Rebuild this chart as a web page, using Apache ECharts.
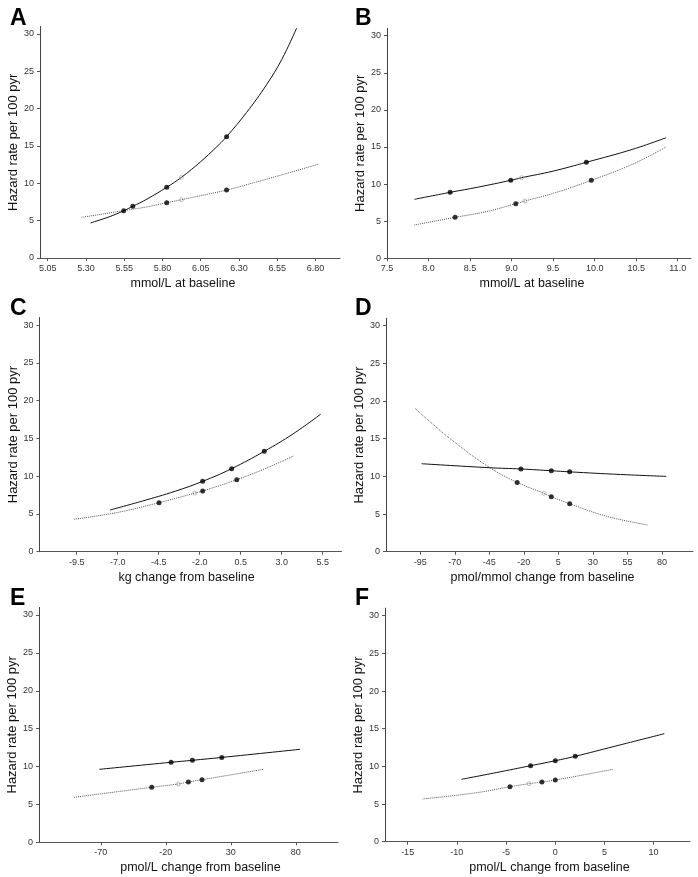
<!DOCTYPE html>
<html>
<head>
<meta charset="utf-8">
<script src="https://cdn.jsdelivr.net/npm/echarts@6/dist/echarts.min.js"></script>
<style>
html,body{margin:0;padding:0;background:#fff;}
#chart{width:698px;height:877px;}
</style>
</head>
<body>
<div id="chart"></div>
<script>
// ---------- data ----------
var yTicks = [0, 5, 10, 15, 20, 25, 30];
var yName = 'Hazard rate per 100 pyr';

// Panel A
var aTicks = [5.05, 5.30, 5.55, 5.80, 6.05, 6.30, 6.55, 6.80];
var aTickLabels = ['5.05', '5.30', '5.55', '5.80', '6.05', '6.30', '6.55', '6.80'];
var aSolid = [[5.33,4.7],[5.45,5.5],[5.547,6.33],[5.606,6.92],[5.70,7.9],[5.828,9.47],[5.924,10.8],[6.05,12.9],[6.15,14.8],[6.219,16.25],[6.35,19.5],[6.48,23.2],[6.58,26.6],[6.677,30.8]];
var aDotted = [[5.27,5.45],[5.40,5.85],[5.547,6.35],[5.70,6.85],[5.828,7.41],[5.924,7.8],[6.05,8.35],[6.219,9.1],[6.40,10.1],[6.60,11.25],[6.825,12.6]];
var aMarks = [[5.547,6.33],[5.606,6.92],[5.828,9.47],[6.219,16.25],[5.828,7.41],[6.219,9.1]];
var aOpen = [[5.924,10.8],[5.924,7.8]];

// Panel B
var bTicks = [7.5, 8.0, 8.5, 9.0, 9.5, 10.0, 10.5, 11.0];
var bTickLabels = ['7.5', '8.0', '8.5', '9.0', '9.5', '10.0', '10.5', '11.0'];
var bSolid = [[7.83,7.95],[8.26,8.89],[8.6,9.6],[8.99,10.51],[9.12,10.86],[9.5,11.75],[9.90,12.94],[10.46,14.7],[10.86,16.25]];
var bDotted = [[7.83,4.49],[8.32,5.52],[8.7,6.3],[9.05,7.36],[9.16,7.72],[9.5,8.75],[9.96,10.51],[10.46,12.7],[10.86,15.0]];
var bMarks = [[8.26,8.89],[8.99,10.51],[9.90,12.94],[8.32,5.52],[9.05,7.36],[9.96,10.51]];
var bOpen = [[9.12,10.86],[9.16,7.72]];

// Panel C
var cTicks = [-9.5, -7.0, -4.5, -2.0, 0.5, 3.0, 5.5];
var cTickLabels = ['-9.5', '-7.0', '-4.5', '-2.0', '0.5', '3.0', '5.5'];
var cSolid = [[-7.47,5.52],[-5.5,6.7],[-3.5,8.0],[-1.82,9.31],[-0.05,10.99],[1.94,13.29],[3.7,15.6],[5.38,18.2]];
var cDotted = [[-9.66,4.29],[-7.0,5.2],[-4.48,6.49],[-2.3,7.75],[-1.82,8.03],[0.26,9.53],[2.0,11.0],[3.77,12.7]];
var cMarks = [[-1.82,9.31],[-0.05,10.99],[1.94,13.29],[-4.48,6.49],[-1.82,8.03],[0.26,9.53]];
var cOpen = [[-2.3,7.75]];

// Panel D
var dTicks = [-95, -70, -45, -20, 5, 30, 55, 80];
var dTickLabels = ['-95', '-70', '-45', '-20', '5', '30', '55', '80'];
var dSolid = [[-94,11.68],[-45,11.15],[-22.1,10.98],[-0.1,10.75],[13.2,10.6],[50,10.25],[83.1,10.0]];
var dDotted = [[-98.8,19.03],[-74,15.1],[-45,11.2],[-24.8,9.2],[-5.4,7.75],[-0.1,7.3],[13.2,6.37],[40,4.7],[69.9,3.54]];
var dMarks = [[-22.1,10.98],[-0.1,10.75],[13.2,10.6],[-24.8,9.2],[-0.1,7.3],[13.2,6.37]];
var dOpen = [[-5.4,7.75]];

// Panel E
var eTicks = [-70, -20, 30, 80];
var eTickLabels = ['-70', '-20', '30', '80'];
var eSolid = [[-71.1,9.63],[-15.9,10.56],[0.5,10.82],[23.1,11.2],[83.3,12.27]];
var eDotted = [[-90.5,5.94],[-30.8,7.26],[-10.3,7.7],[-2.6,7.96],[7.9,8.26],[55.1,9.63]];
var eMarks = [[-15.9,10.56],[0.5,10.82],[23.1,11.2],[-30.8,7.26],[-2.6,7.96],[7.9,8.26]];
var eOpen = [[-10.3,7.7]];

// Panel F
var fTicks = [-15, -10, -5, 0, 5, 10];
var fTickLabels = ['-15', '-10', '-5', '0', '5', '10'];
var fSolid = [[-9.54,8.28],[-6,9.17],[-2.5,10.09],[0.01,10.75],[2.04,11.34],[6,12.65],[11.09,14.34]];
var fDotted = [[-13.48,5.67],[-8,6.5],[-4.6,7.3],[-2.67,7.7],[-1.35,7.92],[0.01,8.19],[3,8.9],[5.86,9.61]];
var fMarks = [[-2.5,10.09],[0.01,10.75],[2.04,11.34],[-4.6,7.3],[-1.35,7.92],[0.01,8.19]];
var fOpen = [[-2.67,7.7]];

// ---------- layout ----------
var panels = [
  {letter:'A', lx:10, ly:7,   nameShift:-7, grid:{left:40,  top:26.5,  width:300, height:231.5}, xmin:5.0,    xmax:6.96,  ticks:aTicks, labels:aTickLabels, xName:'mmol/L at baseline', solid:aSolid, dotted:aDotted, marks:aMarks, open:aOpen},
  {letter:'B', lx:355, ly:7,  nameShift:-7, grid:{left:387, top:28.3,  width:304, height:230},   xmin:7.5,    xmax:11.16, ticks:bTicks, labels:bTickLabels, xName:'mmol/L at baseline', solid:bSolid, dotted:bDotted, marks:bMarks, open:bOpen},
  {letter:'C', lx:10, ly:297, nameShift:-4, grid:{left:39.5, top:317.5, width:302, height:234.2}, xmin:-11.77, xmax:6.65,  ticks:cTicks, labels:cTickLabels, xName:'kg change from baseline', solid:cSolid, dotted:cDotted, marks:cMarks, open:cOpen},
  {letter:'D', lx:355, ly:297,nameShift:3,  grid:{left:386, top:318.2, width:307, height:233.5}, xmin:-119.8, xmax:102.5, ticks:dTicks, labels:dTickLabels, xName:'pmol/mmol change from baseline', solid:dSolid, dotted:dDotted, marks:dMarks, open:dOpen},
  {letter:'E', lx:10, ly:587, nameShift:12, grid:{left:39,  top:607.4, width:299, height:234.9}, xmin:-117.5, xmax:112.5, ticks:eTicks, labels:eTickLabels, xName:'pmol/L change from baseline', solid:eSolid, dotted:eDotted, marks:eMarks, open:eOpen},
  {letter:'F', lx:355, ly:587,nameShift:12, grid:{left:385, top:608.2, width:305, height:233.5}, xmin:-17.3,  xmax:13.7,  ticks:fTicks, labels:fTickLabels, xName:'pmol/L change from baseline', solid:fSolid, dotted:fDotted, marks:fMarks, open:fOpen}
];

var FONT = 'Liberation Sans, Arial, Helvetica, sans-serif';
var option = {
  backgroundColor: '#fff',
  animation: false,
  grid: [], xAxis: [], yAxis: [], series: [], graphic: []
};

panels.forEach(function (p, i) {
  option.grid.push(p.grid);
  var s = p.nameShift;
  var pad = s >= 0 ? [0, 0, 0, 2 * s] : [0, -2 * s, 0, 0];
  (function (ticks, labels) {
    option.xAxis.push({
      type: 'value', gridIndex: i, min: p.xmin, max: p.xmax,
      name: p.xName, nameLocation: 'middle', nameGap: 19,
      nameTextStyle: {fontFamily: FONT, fontSize: 12.5, color: '#111', padding: pad},
      splitLine: {show: false},
      axisLine: {show: true, onZero: false, lineStyle: {color: '#555', width: 1}},
      axisTick: {show: true, length: 3, customValues: ticks, lineStyle: {color: '#555'}},
      axisLabel: {customValues: ticks, fontFamily: FONT, fontSize: 9, color: '#333', margin: 6,
        formatter: function (v) { var k = ticks.indexOf(v); return k >= 0 ? labels[k] : ''; }}
    });
  })(p.ticks, p.labels);
  option.yAxis.push({
    type: 'value', gridIndex: i, min: 0, max: 31,
    name: yName, nameLocation: 'middle', nameGap: 17,
    nameTextStyle: {fontFamily: FONT, fontSize: 13, color: '#111'},
    splitLine: {show: false},
    axisLine: {show: true, onZero: false, lineStyle: {color: '#444', width: 1}},
    axisTick: {show: true, length: 3, customValues: yTicks, lineStyle: {color: '#555'}},
    axisLabel: {customValues: yTicks, fontFamily: FONT, fontSize: 9, color: '#333', margin: 6}
  });
  option.series.push({
    type: 'line', xAxisIndex: i, yAxisIndex: i, data: p.dotted, smooth: 0.4,
    showSymbol: false, lineStyle: {color: '#555', width: 1, type: 'dotted'}, z: 2
  });
  option.series.push({
    type: 'line', xAxisIndex: i, yAxisIndex: i, data: p.solid, smooth: 0.4,
    showSymbol: false, lineStyle: {color: '#111', width: 1}, z: 3
  });
  option.series.push({
    type: 'scatter', xAxisIndex: i, yAxisIndex: i, data: p.open, symbol: 'circle', symbolSize: 4,
    itemStyle: {color: 'rgba(255,255,255,0)', borderColor: '#999', borderWidth: 0.8}, z: 4
  });
  option.series.push({
    type: 'scatter', xAxisIndex: i, yAxisIndex: i, data: p.marks, symbol: 'circle', symbolSize: 5,
    itemStyle: {color: '#000'}, z: 5
  });
  option.graphic.push({
    type: 'text', left: p.lx, top: p.ly,
    style: {text: p.letter, font: 'bold 23px ' + FONT, fill: '#000'}
  });
});

var chart = echarts.init(document.getElementById('chart'), null, {renderer: 'canvas'});
chart.setOption(option);
</script>
</body>
</html>
